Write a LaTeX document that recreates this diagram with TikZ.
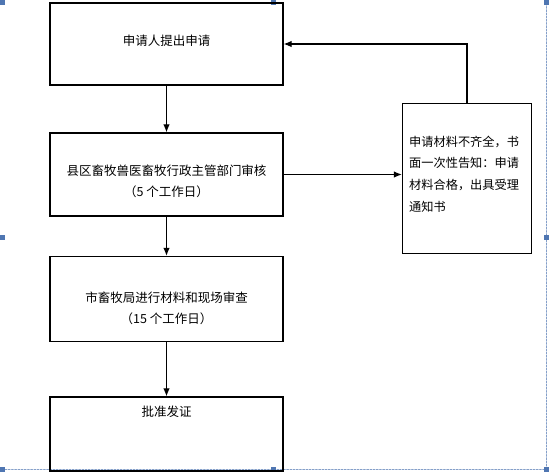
\documentclass[tikz,border=0pt]{standalone}
\usepackage{fontspec}
\newfontfamily\cjk{Noto Sans CJK SC}
\usetikzlibrary{arrows.meta}
\definecolor{handleblue}{RGB}{79,118,178}

\begin{document}
\begin{tikzpicture}[x=1pt,y=-1pt,line cap=round,line join=miter,
  box/.style={draw,line width=1.3pt,minimum width=233pt,inner sep=0pt},
  sidebox/.style={draw,line width=1.3pt,minimum width=129pt,minimum height=150pt,inner sep=0pt},
  txt/.style={font=\cjk\fontsize{12.5}{21}\selectfont,align=center},
  flow/.style={line width=1.1pt,-{Latex[length=8pt,width=6.5pt]}},
  handle/.style={fill=handleblue,minimum size=5pt,inner sep=0pt}]

\useasboundingbox (0,0) rectangle (549,475);

% selection frame of the pasted picture
\draw[handleblue!70,line width=.6pt,dash pattern=on 2pt off 1.2pt] (546,0)--(546,469)--(0,469);
\foreach \x/\y in {2/2,273/2,546/2,2/237,546/237,2/469,273/469,546/469}
  \node[handle] at (\x,\y) {};

% main column
\node[box,minimum height=82pt] (apply) at (166.5,44) {};
\node[txt] (applyt) at (166.5,41) {申请人提出申请};

\node[box,minimum height=83pt] (county) at (166.5,174.5) {};
\node[txt] (countyt) at (166.5,181) {县区畜牧兽医畜牧行政主管部门审核\\（5 个工作日）};

\node[box,minimum height=85pt] (city) at (166.5,299) {};
\node[txt] (cityt) at (166.5,308) {市畜牧局进行材料和现场审查\\（15 个工作日）};

\node[box,minimum height=74pt] (issue) at (166.5,434) {};
\node[txt] (issuet) at (166.5,412) {批准发证};

% side notice
\node[sidebox] (notice) at (467,178.5) {};
\node[anchor=north west,font=\cjk\fontsize{12.2}{21.8}\selectfont,align=left,inner sep=0pt]
  (noticet) at (409,135.5) {申请材料不齐全，书\\面一次性告知：申请\\材料合格，出具受理\\通知书};

% connectors
\draw[flow] (apply) -- (county);
\draw[flow] (county) -- (city);
\draw[flow] (city) -- (issue);
\draw[flow] (county.east) -- (county.east -| notice.west);
\draw[flow] (notice.north) |- (apply.east |- 0,44);
\end{tikzpicture}
\end{document}
